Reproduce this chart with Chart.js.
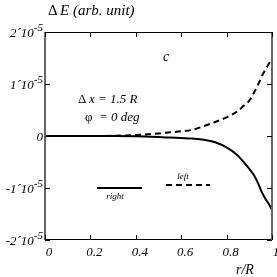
<!DOCTYPE html>
<html>
<head>
<meta charset="utf-8">
<script src="https://cdn.jsdelivr.net/npm/chart.js@4"></script>
<style>
  html, body { margin: 0; padding: 0; background: #fff; }
  #wrap { width: 277px; height: 277px; }
</style>
</head>
<body>
<div id="wrap"><canvas id="chart"></canvas></div>
<script>
// values in units of 1e-5
var rValues = [0, 0.1, 0.2, 0.3, 0.4, 0.5, 0.55, 0.6, 0.65, 0.7, 0.75, 0.8, 0.85, 0.875, 0.9, 0.92, 0.94, 0.955, 0.97, 0.985, 1.0];
var rightValues = [0, 0, 0, 0, -0.005, -0.02, -0.03, -0.04, -0.05, -0.07, -0.12, -0.22, -0.38, -0.5, -0.63, -0.75, -0.92, -1.08, -1.2, -1.3, -1.42];
var leftValues = [0, 0, 0, 0.005, 0.02, 0.05, 0.07, 0.09, 0.12, 0.19, 0.27, 0.36, 0.48, 0.58, 0.68, 0.83, 1.0, 1.15, 1.27, 1.38, 1.48];
var xTicks = [0, 0.2, 0.4, 0.6, 0.8, 1];
var xTickLabels = ["0", "0.2", "0.4", "0.6", "0.8", "1"];
var yTicks = [2, 1, 0, -1, -2];
var yTickLabels = ["2´10", "1´10", "0", "-1´10", "-2´10"];
var yTickExp = ["-5", "-5", "", "-5", "-5"];

var FONT = '"Liberation Serif", "DejaVu Serif", serif';

function toPoints(xs, ys) {
    return xs.map(function (x, i) { return {x: x, y: ys[i]}; });
}

// axes frame, ticks, labels and legend
var framePlugin = {
    id: 'frame',
    afterDraw: function (chart) {
        var c = chart.ctx, a = chart.chartArea;
        var xs = chart.scales.x, ys = chart.scales.y;
        c.save();
        // top and bottom
        c.strokeStyle = '#000';
        c.lineWidth = 1;
        c.beginPath();
        c.moveTo(a.left, a.top + 0.5); c.lineTo(a.right, a.top + 0.5);
        c.moveTo(a.left, a.bottom - 0.5); c.lineTo(a.right, a.bottom - 0.5);
        c.stroke();
        // left and right
        c.strokeStyle = '#666';
        c.lineWidth = 2;
        c.beginPath();
        c.moveTo(a.left, a.top); c.lineTo(a.left, a.bottom);
        c.moveTo(a.right, a.top); c.lineTo(a.right, a.bottom);
        c.stroke();

        // ticks
        c.strokeStyle = '#000';
        c.lineWidth = 1;
        c.beginPath();
        xTicks.forEach(function (v) {
            var px = Math.round(xs.getPixelForValue(v)) + 0.5;
            c.moveTo(px, a.bottom); c.lineTo(px, a.bottom - 5);
            c.moveTo(px, a.top); c.lineTo(px, a.top + 5);
        });
        yTicks.forEach(function (v) {
            var py = Math.round(ys.getPixelForValue(v)) + 0.5;
            c.moveTo(a.left, py); c.lineTo(a.left + 5, py);
            c.moveTo(a.right, py); c.lineTo(a.right - 5, py);
        });
        c.stroke();

        c.fillStyle = '#000';
        // x tick labels
        c.font = 'italic 13px ' + FONT;
        c.textAlign = 'center';
        c.textBaseline = 'middle';
        xTicks.forEach(function (v, i) {
            c.fillText(xTickLabels[i], xs.getPixelForValue(v) + 4, a.bottom + 13);
        });

        // y tick labels with superscript
        c.textBaseline = 'alphabetic';
        yTicks.forEach(function (v, i) {
            var py = ys.getPixelForValue(v);
            var right = a.left - 2;
            c.font = 'italic 11px ' + FONT;
            var ew = yTickExp[i] ? c.measureText(yTickExp[i]).width : 0;
            c.textAlign = 'right';
            if (yTickExp[i]) c.fillText(yTickExp[i], right, py - 1);
            c.font = 'italic 13px ' + FONT;
            c.fillText(yTickLabels[i], right - ew, py + 5);
        });

        // titles
        c.textAlign = 'left';
        c.textBaseline = 'middle';
        c.font = '15px ' + FONT;
        c.fillText('Δ', 48, 11);
        c.font = 'italic 15px ' + FONT;
        c.fillText('E (arb. unit)', 60, 11);
        c.font = 'italic 14px ' + FONT;
        c.fillText('r/R', 236, 270);

        c.fillText('c', 163, 57);
        c.font = '13px ' + FONT;
        c.fillText('Δ', 78, 100);
        c.font = 'italic 13px ' + FONT;
        c.fillText('x = 1.5 R', 89, 100);
        c.font = '13px ' + FONT;
        c.fillText('φ', 85, 118);
        c.font = 'italic 13px ' + FONT;
        c.fillText('= 0 deg', 99, 118);

        // legend
        c.lineWidth = 2;
        c.beginPath();
        c.moveTo(97, 188); c.lineTo(142, 188);
        c.stroke();
        c.setLineDash([6, 4]);
        c.beginPath();
        c.moveTo(166, 185); c.lineTo(210, 185);
        c.stroke();
        c.setLineDash([]);
        c.font = 'italic 9px ' + FONT;
        c.textAlign = 'center';
        c.fillText('right', 115, 197);
        c.fillText('left', 183, 177);
        c.restore();
    }
};

var ctx = document.getElementById('chart').getContext('2d');
var myChart = new Chart(ctx, {
    type: 'line',
    data: {
        datasets: [{
            label: 'right',
            data: toPoints(rValues, rightValues),
            borderColor: '#000',
            borderWidth: 2,
            pointRadius: 0,
            cubicInterpolationMode: 'monotone',
            fill: false
        }, {
            label: 'left',
            data: toPoints(rValues, leftValues),
            borderColor: '#000',
            borderWidth: 2,
            borderDash: [6, 4],
            pointRadius: 0,
            cubicInterpolationMode: 'monotone',
            fill: false
        }]
    },
    options: {
        responsive: true,
        maintainAspectRatio: false,
        animation: false,
        layout: { padding: { left: 45, right: 5, top: 32, bottom: 37 } },
        plugins: {
            legend: { display: false },
            tooltip: { enabled: false }
        },
        scales: {
            x: {
                type: 'linear', min: 0, max: 1,
                ticks: { display: false },
                grid: { display: false },
                border: { display: false },
                afterFit: function (s) { s.height = 0; }
            },
            y: {
                min: -2, max: 2,
                ticks: { display: false },
                grid: { display: false },
                border: { display: false },
                afterFit: function (s) { s.width = 0; }
            }
        }
    },
    plugins: [framePlugin]
});
</script>
</body>
</html>
